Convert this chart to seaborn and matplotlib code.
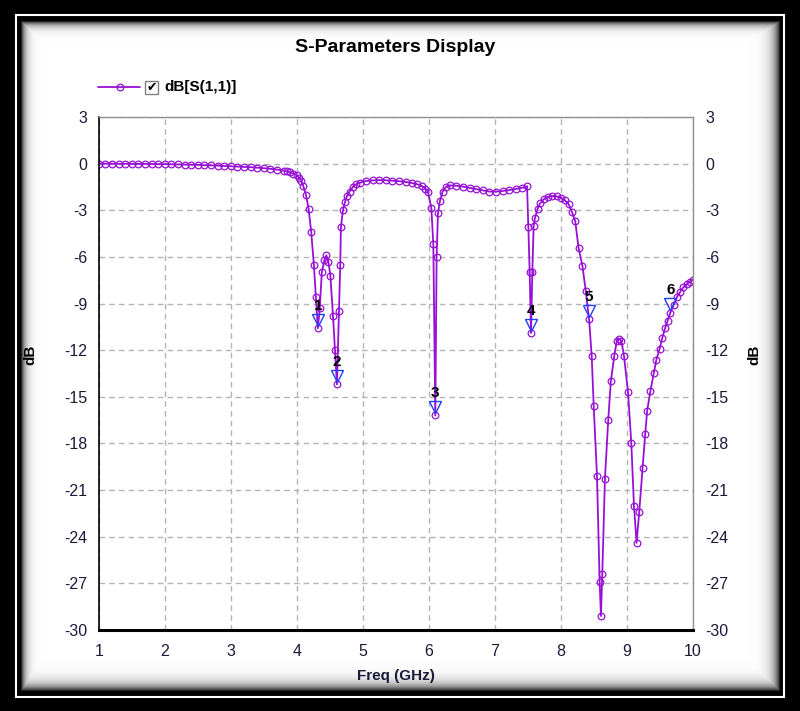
import numpy as np
import pandas as pd
import matplotlib
matplotlib.use("Agg")
import matplotlib.pyplot as plt
import seaborn as sns
from matplotlib.patches import Rectangle
from matplotlib.lines import Line2D

# S11 sweep (GHz, dB)
freq = [1.00, 1.10, 1.20, 1.30, 1.40, 1.50, 1.60, 1.70, 1.80, 1.90,
        2.00, 2.10, 2.20, 2.30, 2.40, 2.50, 2.60, 2.70, 2.80, 2.90,
        3.00, 3.10, 3.20, 3.30, 3.40, 3.50, 3.60, 3.70, 3.80, 3.85,
        3.90, 3.95, 4.00, 4.04, 4.07, 4.10, 4.14, 4.18, 4.22, 4.26,
        4.29, 4.32, 4.35, 4.38, 4.42, 4.45, 4.48, 4.51, 4.55, 4.58,
        4.61, 4.64, 4.66, 4.67, 4.70, 4.73, 4.76, 4.80, 4.85, 4.90,
        4.96, 5.05, 5.15, 5.25, 5.35, 5.45, 5.55, 5.65, 5.75, 5.83,
        5.90, 5.95, 5.99, 6.04, 6.07, 6.10, 6.12, 6.14, 6.17, 6.21,
        6.26, 6.33, 6.42, 6.52, 6.62, 6.72, 6.82, 6.92, 7.02, 7.12,
        7.22, 7.32, 7.42, 7.49, 7.51, 7.53, 7.55, 7.57, 7.59, 7.61,
        7.65, 7.69, 7.74, 7.80, 7.87, 7.94, 8.00, 8.06, 8.12, 8.17,
        8.22, 8.27, 8.33, 8.38, 8.43, 8.47, 8.50, 8.55, 8.59, 8.61,
        8.63, 8.67, 8.72, 8.76, 8.81, 8.85, 8.88, 8.92, 8.96, 9.02,
        9.07, 9.11, 9.15, 9.19, 9.24, 9.28, 9.31, 9.36, 9.41, 9.45,
        9.50, 9.54, 9.58, 9.62, 9.66, 9.71, 9.76, 9.81, 9.86, 9.91,
        9.96, 10.00]
s11_db = [0.00, 0.00, 0.00, -0.01, -0.01, -0.01, -0.02, -0.02, -0.02, -0.03,
          -0.03, -0.04, -0.05, -0.06, -0.07, -0.08, -0.10, -0.11, -0.13, -0.15,
          -0.17, -0.19, -0.21, -0.23, -0.26, -0.29, -0.33, -0.38, -0.45, -0.50,
          -0.56, -0.64, -0.75, -0.90, -1.10, -1.45, -2.00, -2.90, -4.40, -6.50,
          -8.60, -10.60, -9.30, -7.00, -6.20, -5.90, -6.30, -7.20, -9.80, -12.00,
          -14.20, -9.50, -6.50, -4.10, -3.00, -2.50, -2.10, -1.80, -1.50, -1.32,
          -1.22, -1.12, -1.08, -1.06, -1.07, -1.10, -1.13, -1.18, -1.25, -1.33,
          -1.45, -1.60, -1.85, -2.85, -5.20, -16.20, -6.00, -3.20, -2.40, -1.80,
          -1.50, -1.40, -1.42, -1.48, -1.56, -1.64, -1.72, -1.80, -1.80, -1.76,
          -1.70, -1.63, -1.55, -1.45, -4.10, -7.00, -10.90, -7.00, -4.00, -3.50,
          -2.90, -2.55, -2.30, -2.15, -2.08, -2.10, -2.18, -2.35, -2.60, -3.10,
          -3.70, -5.40, -6.60, -8.20, -10.00, -12.40, -15.60, -20.10, -26.90, -29.10,
          -26.40, -20.30, -16.50, -14.00, -12.40, -11.40, -11.25, -11.40, -12.40, -14.70,
          -18.00, -22.00, -24.40, -22.40, -19.60, -17.40, -15.90, -14.60, -13.50, -12.60,
          -11.90, -11.20, -10.60, -10.10, -9.60, -9.10, -8.60, -8.25, -7.95, -7.75,
          -7.60, -7.50]

# markers placed on the trace
marker_ids = ["1", "2", "3", "4", "5", "6"]
marker_freq = [4.32, 4.61, 6.10, 7.55, 8.43, 9.66]
marker_db = [-10.60, -14.20, -16.20, -10.90, -10.00, -9.60]

x_ticks = [1, 2, 3, 4, 5, 6, 7, 8, 9, 10]
y_ticks = [3, 0, -3, -6, -9, -12, -15, -18, -21, -24, -27, -30]

df = pd.DataFrame({"freq": freq, "s11": s11_db})

sns.set_style("white")
plt.rcParams['font.family'] = ['Liberation Sans', 'DejaVu Sans']
plt.rcParams['axes.unicode_minus'] = False

W, H = 800, 711
purple = "#9810D6"
tick_col = "#1a1a3a"


def fx(x):
    return x / W


def fy(y):
    return 1 - y / H


fig = plt.figure(figsize=(8, 7.11), dpi=100)
fig.patch.set_facecolor("black")

# thin white outer line of the frame
fig.add_artist(Rectangle((fx(16), fy(697)), (784 - 16) / W, (697 - 15) / H,
                         transform=fig.transFigure, fill=False,
                         edgecolor="white", lw=1.5))

# white panel with shaded edges
pl, pt, pr, pb = 21, 21, 780, 691
panel = fig.add_axes([fx(pl), fy(pb), (pr - pl) / W, (pb - pt) / H])
pw, ph = pr - pl, pb - pt
xx, yy = np.meshgrid(np.arange(pw), np.arange(ph))
shade = np.minimum.reduce([
    1 - 0.85 * np.exp(-xx / 4.0),
    1 - 0.85 * np.exp(-yy / 4.0),
    1 - 0.85 * np.exp(-(pw - 1 - xx) / 6.0),
    1 - 0.85 * np.exp(-(ph - 1 - yy) / 6.0),
])
panel.imshow(shade, cmap="gray", vmin=0, vmax=1, aspect="auto",
             interpolation="bilinear")
panel.axis("off")
panel.set_zorder(0)

# main plot area
ax = fig.add_axes([fx(98.7), fy(630), (692.7 - 98.7) / W, (630 - 117) / H])
ax.set_zorder(1)
ax.set_facecolor("white")

sns.lineplot(data=df, x="freq", y="s11", ax=ax, sort=False, estimator=None,
             color=purple, linewidth=1.3, marker="o", markersize=4.8,
             mfc="none", mec=purple, mew=0.9)

for mid, mf, md in zip(marker_ids, marker_freq, marker_db):
    ax.plot(mf, md + 0.55, marker="v", markersize=8, mfc="none",
            mec="#2040ff", mew=1.0, zorder=5)
    ax.text(mf, md + 1.45, mid, ha="center", va="center", fontsize=11,
            fontweight="bold", color="black", zorder=6)

ax.set_xlim(1, 10)
ax.set_ylim(-30, 3)
ax.set_xticks(x_ticks)
ax.set_yticks(y_ticks)
ax.grid(True, color="#b4b4b4", linestyle=(0, (4, 3)), linewidth=1)
ax.tick_params(length=0, labelsize=11.5, colors=tick_col)
ax.tick_params(axis="y", pad=8)
ax.tick_params(axis="x", pad=10)
for s in ["top", "right"]:
    ax.spines[s].set_color("#909090")
    ax.spines[s].set_linewidth(1)
ax.spines["left"].set_color("black")
ax.spines["left"].set_linewidth(1.2)
ax.spines["bottom"].set_color("black")
ax.spines["bottom"].set_linewidth(2.2)

ax.set_xlabel("Freq (GHz)", fontsize=11, fontweight="bold", color=tick_col)
ax.xaxis.set_label_coords(0.5, -0.076)
ax.set_ylabel("dB", fontsize=11, fontweight="bold", color="black")
ax.yaxis.set_label_coords(-0.104, 0.536)

ax2 = ax.twinx()
ax2.set_zorder(2)
ax2.patch.set_visible(False)
ax2.set_ylim(-30, 3)
ax2.set_yticks(y_ticks)
ax2.tick_params(length=0, labelsize=11.5, colors=tick_col, pad=9)
for s in ax2.spines.values():
    s.set_visible(False)
ax2.set_ylabel("dB", fontsize=11, fontweight="bold", color="black",
               rotation=90)
ax2.yaxis.set_label_coords(1.092, 0.536)

# title
fig.text(fx(395), fy(48), "S-Parameters Display", ha="center", va="center",
         fontsize=14, fontweight="bold", color="black")

# legend: line sample, checkbox, label
fig.add_artist(Line2D([fx(98), fx(140)], [fy(87), fy(87)],
                      transform=fig.transFigure, color=purple, lw=1.3))
fig.add_artist(Line2D([fx(120)], [fy(87)], transform=fig.transFigure,
                      color=purple, marker="o", markersize=4.8, mfc="none",
                      mew=0.9))
fig.add_artist(Rectangle((fx(145), fy(94)), 13 / W, 13 / H,
                         transform=fig.transFigure, facecolor="white",
                         edgecolor="#808080", lw=1))
fig.text(fx(151.5), fy(87.5), "\u2714", ha="center", va="center",
         fontsize=9, color="black", family=["DejaVu Sans"])
fig.text(fx(164), fy(87), "dB[S(1,1)]", ha="left", va="center",
         fontsize=11, fontweight="bold", color="black")

fig.savefig("out.png", dpi=100, facecolor=fig.get_facecolor())
